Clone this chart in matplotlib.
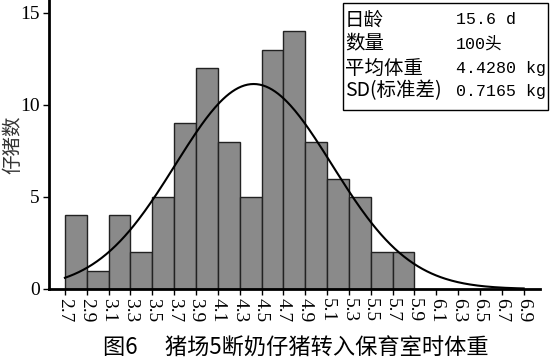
import numpy as np
import matplotlib
matplotlib.use("Agg")
import matplotlib.pyplot as plt

plt.rcParams['font.family'] = ['Liberation Serif', 'Noto Sans CJK SC', 'DejaVu Sans']

# Data
bin_edges = [2.7, 2.9, 3.1, 3.3, 3.5, 3.7, 3.9, 4.1, 4.3, 4.5, 4.7, 4.9, 5.1, 5.3, 5.5, 5.7, 5.9]
counts = [4, 1, 4, 2, 5, 9, 12, 8, 5, 13, 14, 8, 6, 5, 2, 2]
tick_labels = ["2.7", "2.9", "3.1", "3.3", "3.5", "3.7", "3.9", "4.1", "4.3", "4.5", "4.7",
               "4.9", "5.1", "5.3", "5.5", "5.7", "5.9", "6.1", "6.3", "6.5", "6.7", "6.9"]
n_total = 100
mean_w = 4.4280
sd_w = 0.7165
stat_names = ["日龄", "数量", "平均体重", "SD(标准差)"]
stat_values = ["15.6 d", "100头", "4.4280 kg", "0.7165 kg"]

fig = plt.figure(figsize=(5.5, 3.62), dpi=100)
ax = fig.add_axes([0.089, 0.2017, 0.893, 0.7983])

widths = np.diff(bin_edges)
ax.bar(bin_edges[:-1], counts, width=widths, align='edge', color='#8a8a8a',
       edgecolor='#222222', linewidth=1.0, zorder=2)

xs = np.linspace(2.7, 6.9, 300)
bw = widths[0]
ys = n_total * bw * np.exp(-0.5 * ((xs - mean_w) / sd_w) ** 2) / (sd_w * np.sqrt(2 * np.pi))
ax.plot(xs, ys, color='black', linewidth=1.5, zorder=3)

ax.set_xlim(2.554, 7.05)
ax.set_ylim(0, 15.7)
ax.set_xticks([float(t) for t in tick_labels])
ax.set_xticklabels(tick_labels, rotation=-90, fontsize=14)
ax.set_yticks([0, 5, 10, 15])
ax.set_yticklabels(["0", "5", "10", "15"], fontsize=14)
for lab in ax.get_xticklabels() + ax.get_yticklabels():
    lab.set_fontfamily('Liberation Serif')
ax.tick_params(axis='both', direction='out', length=4.5, width=1, pad=2)

for s in ['top', 'right']:
    ax.spines[s].set_visible(False)
ax.spines['left'].set_linewidth(2)
ax.spines['bottom'].set_linewidth(2)

fig.text(13/550, 1 - 145/362, "仔猪数", fontsize=14, rotation=90, ha='center', va='center',
         color='#333333', family=['Noto Sans CJK SC'])

# Stats box
box = plt.Rectangle((343/550, 1 - 110/362), 205/550, 107/362, transform=fig.transFigure,
                    facecolor='white', edgecolor='black', linewidth=1.0, zorder=5)
fig.add_artist(box)
line_y = [20, 44, 68, 91]
for name, val, yy in zip(stat_names, stat_values, line_y):
    fig.text(345/550, 1 - yy/362, name, fontsize=14, va='center', ha='left',
             family=['Noto Sans CJK SC'], zorder=6)
    fig.text(456/550, 1 - yy/362, val, fontsize=12, va='center', ha='left',
             family=['Liberation Mono', 'Noto Sans CJK SC'], zorder=6)

fig.text(296/550, 1 - 348/362, "图6\u3000 猪场5断奶仔猪转入保育室时体重", fontsize=16,
         ha='center', va='center', family=['Noto Sans CJK SC', 'DejaVu Sans'])

fig.savefig("out.png", dpi=100)
